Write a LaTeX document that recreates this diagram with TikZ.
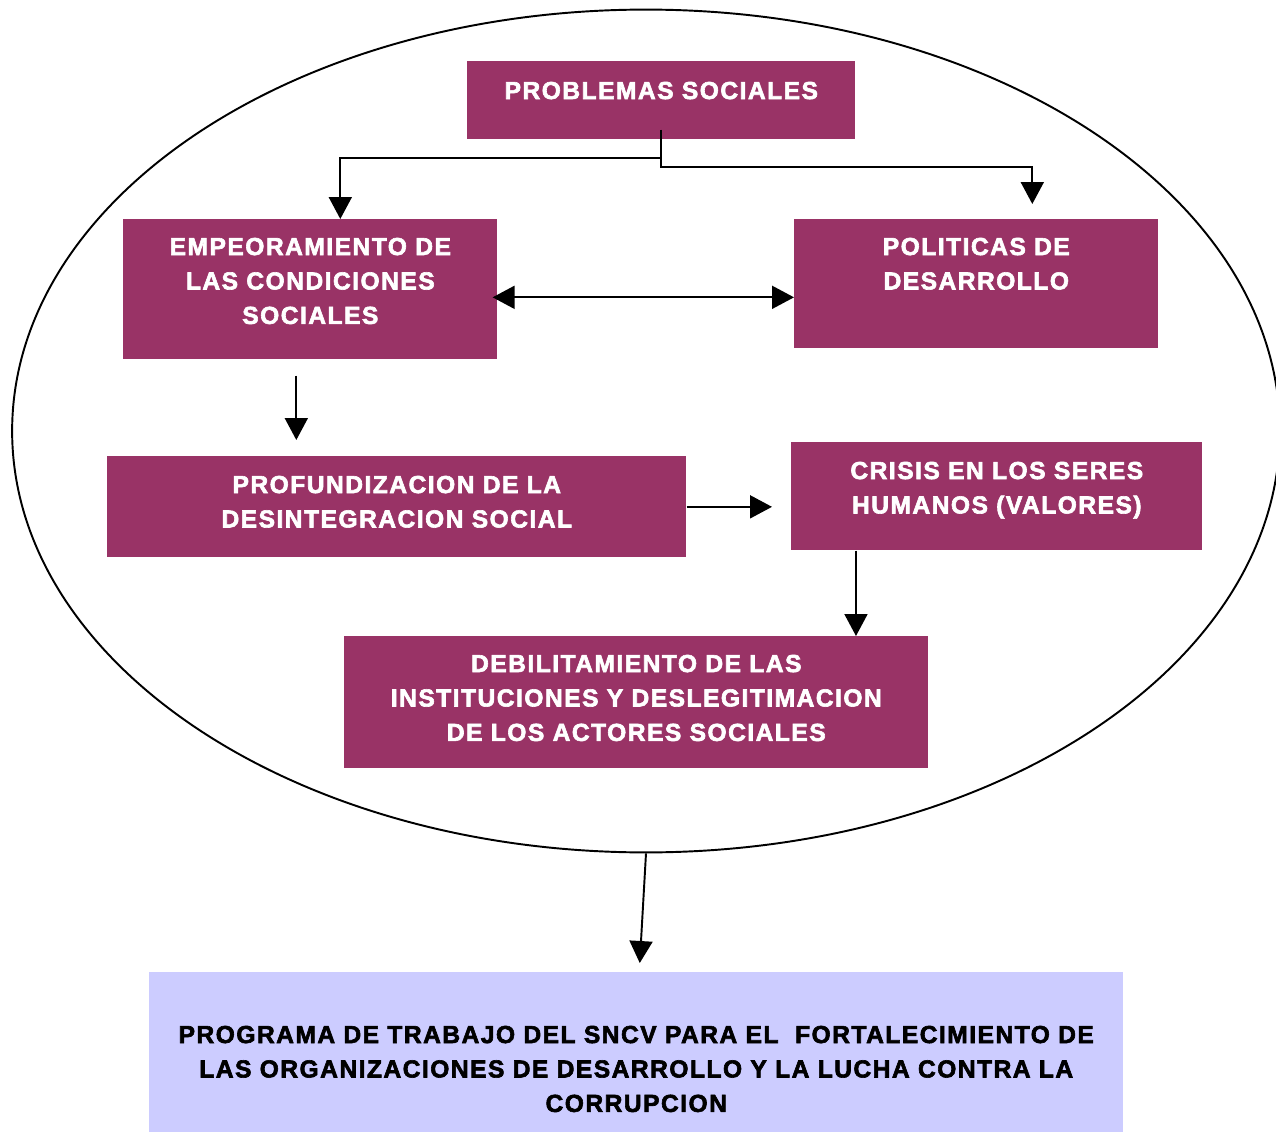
\documentclass[tikz,border=0pt]{standalone}
\usepackage{fontspec}
\newfontfamily\blackfont{Liberation Sans Bold}[FakeBold=2.5,LetterSpace=6.0]
\usetikzlibrary{positioning,shapes.geometric,arrows.meta}
\definecolor{vino}{HTML}{993366}
\definecolor{lila}{HTML}{CCCCFF}
\begin{document}
\begin{tikzpicture}[x=0.02cm, y=-0.02cm,
  caja/.style={fill=vino, anchor=north west, inner sep=0},
  rotulo/.style={text=white, align=center, inner sep=0,
    font=\blackfont\fontsize{14}{19.6}\selectfont},
  flecha/.style={line width=1.1pt, -{Triangle[length=0.44cm, width=0.46cm]}},
  doble/.style={line width=1.1pt, {Triangle[length=0.44cm, width=0.46cm]}-{Triangle[length=0.44cm, width=0.46cm]}}]
  \useasboundingbox (0,0) rectangle (1276,1132);
  \node[ellipse, draw, line width=1.1pt, minimum width=25.36cm, minimum height=16.86cm] (marco) at (646,431) {};
  \node[caja, minimum width=7.76cm, minimum height=1.56cm] (ps) at (467,61) {};
  \node[caja, minimum width=7.48cm, minimum height=2.8cm] (empeor) at (123,219) {};
  \node[caja, minimum width=7.28cm, minimum height=2.58cm] (polit) at (794,219) {};
  \node[caja, minimum width=11.58cm, minimum height=2.02cm] (profund) at (107,456) {};
  \node[caja, minimum width=8.22cm, minimum height=2.16cm] (crisis) at (791,442) {};
  \node[caja, minimum width=11.68cm, minimum height=2.64cm] (debil) at (344,636) {};
  \node[caja, fill=lila, minimum width=19.48cm, minimum height=3.2cm] (programa) at (149,972) {};
  \node[rotulo, below=0.41cm of ps.north] (ps-t) {PROBLEMAS SOCIALES};
  \node[rotulo, below=0.37cm of empeor.north] (empeor-t) {EMPEORAMIENTO DE\\LAS CONDICIONES\\SOCIALES};
  \node[rotulo, below=0.37cm of polit.north] (polit-t) {POLITICAS DE\\DESARROLLO};
  \node[rotulo, below=0.39cm of profund.north] (profund-t) {PROFUNDIZACION DE LA\\DESINTEGRACION SOCIAL};
  \node[rotulo, below=0.39cm of crisis.north] (crisis-t) {CRISIS EN LOS SERES\\HUMANOS (VALORES)};
  \node[rotulo, below=0.37cm of debil.north] (debil-t) {DEBILITAMIENTO DE LAS\\INSTITUCIONES Y DESLEGITIMACION\\DE LOS ACTORES SOCIALES};
  \node[rotulo, text=black, below=1.07cm of programa.north] (programa-t) {PROGRAMA DE TRABAJO DEL SNCV PARA EL~ FORTALECIMIENTO DE\\LAS ORGANIZACIONES DE DESARROLLO Y LA LUCHA CONTRA LA\\CORRUPCION};
  \coordinate (psfoot) at (661,130);
  \draw[flecha] (psfoot) -- ++(0,28) -| ([xshift=0.6cm]empeor.north);
  \draw[flecha, shorten >=0.3cm] (psfoot) -- ++(0,37) -| ([xshift=1.12cm]polit.north);
  \draw[doble, shorten <=-0.1cm] ([yshift=-0.16cm]empeor.east) -- ([yshift=-0.16cm]empeor.east -| polit.west);
  \draw[flecha, shorten <=0.32cm, shorten >=0.32cm] ([xshift=-0.28cm]empeor.south) -- ([xshift=-0.28cm]empeor.south |- profund.north);
  \draw[flecha, shorten >=0.38cm] (profund.east) -- (profund.east -| crisis.west);
  \draw[flecha] ([xshift=1.3cm]crisis.south west) -- ([xshift=1.3cm]crisis.south west |- debil.north);
  \draw[flecha, shorten >=0.18cm] (marco.south) -- ([xshift=0.06cm]programa.north);
\end{tikzpicture}
\end{document}
